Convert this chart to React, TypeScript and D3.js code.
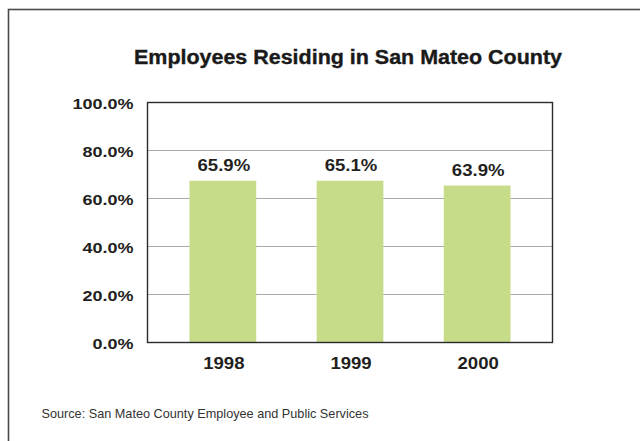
import React from "react";
import * as d3 from "d3";

const title = "Employees Residing in San Mateo County";
const source = "Source: San Mateo County Employee and Public Services";
const years = ["1998", "1999", "2000"];
// bar heights as drawn in the reference picture (percent)
const barValues = [67.4, 67.4, 65.4];
// labels printed above the bars
const barLabels = ["65.9%", "65.1%", "63.9%"];
const yTicks = [0, 20, 40, 60, 80, 100];

const W = 640;
const H = 441;
const plot = { left: 147.5, right: 552.5, top: 102.5, bottom: 342.5 };

export default function App() {
  const x = d3
    .scaleBand<string>()
    .domain(years)
    .range([plot.left, plot.right])
    .paddingInner(0.475)
    .paddingOuter(0.33);
  const y = d3.scaleLinear().domain([0, 100]).range([plot.bottom, plot.top]);
  const fmt = (v: number) => d3.format(".1f")(v) + "%";
  const font = "'Liberation Sans', Arial, sans-serif";
  const textCol = "#231f20";
  const sx = 1.16;

  const Num = (props: { x: number; y: number; anchor: string; size: number; children: string }) => (
    <text
      transform={`translate(${props.x},${props.y}) scale(${sx},1)`}
      textAnchor={props.anchor}
      fontFamily={font}
      fontWeight="bold"
      fontSize={props.size}
      fill={textCol}
    >
      {props.children}
    </text>
  );

  return (
    <svg
      width={W}
      height={H}
      style={{ position: "absolute", left: 0, top: 0, background: "#fff" }}
    >
      <rect x={0} y={0} width={W} height={H} fill="#fff" />
      {/* outer frame, continues past right and bottom edges */}
      <rect
        x={8.5}
        y={9.5}
        width={W + 20}
        height={H + 20}
        fill="none"
        stroke="#4a4a4a"
        strokeWidth={1.6}
      />
      <text
        x={348}
        y={64}
        textAnchor="middle"
        fontFamily={font}
        fontWeight="bold"
        fontSize={19.5}
        fill="#1a1a1a"
        stroke="#1a1a1a"
        strokeWidth={0.35}
        textLength={428}
        lengthAdjust="spacingAndGlyphs"
      >
        {title}
      </text>

      {/* gridlines */}
      {yTicks
        .filter((t) => t > 0 && t < 100)
        .map((t) => (
          <line
            key={"g" + t}
            x1={plot.left}
            x2={plot.right}
            y1={y(t)}
            y2={y(t)}
            stroke="#aaaaaa"
            strokeWidth={1.2}
          />
        ))}

      {/* bars */}
      {years.map((yr, i) => (
        <rect
          key={"b" + yr}
          x={x(yr)}
          y={y(barValues[i])}
          width={x.bandwidth()}
          height={y(0) - y(barValues[i])}
          fill="#c6dc89"
        />
      ))}

      {/* plot frame */}
      <rect
        x={plot.left}
        y={plot.top}
        width={plot.right - plot.left}
        height={plot.bottom - plot.top}
        fill="none"
        stroke="#2a2a2a"
        strokeWidth={1.4}
      />

      {/* value labels */}
      {years.map((yr, i) => (
        <Num
          key={"v" + yr}
          x={(x(yr) as number) + x.bandwidth() / 2 + 1}
          y={y(barValues[i]) - 9.5}
          anchor="middle"
          size={16}
        >
          {barLabels[i]}
        </Num>
      ))}

      {/* y tick labels */}
      {yTicks.map((t) => (
        <Num key={"t" + t} x={133.5} y={y(t) + 6.3} anchor="end" size={15.5}>
          {fmt(t)}
        </Num>
      ))}

      {/* x labels */}
      {years.map((yr) => (
        <Num
          key={"x" + yr}
          x={(x(yr) as number) + x.bandwidth() / 2 + 1}
          y={368.5}
          anchor="middle"
          size={16}
        >
          {yr}
        </Num>
      ))}

      <text
        x={41.5}
        y={417.5}
        fontFamily={font}
        fontSize={12.8}
        fill="#333333"
        textLength={327}
        lengthAdjust="spacingAndGlyphs"
      >
        {source}
      </text>
    </svg>
  );
}
